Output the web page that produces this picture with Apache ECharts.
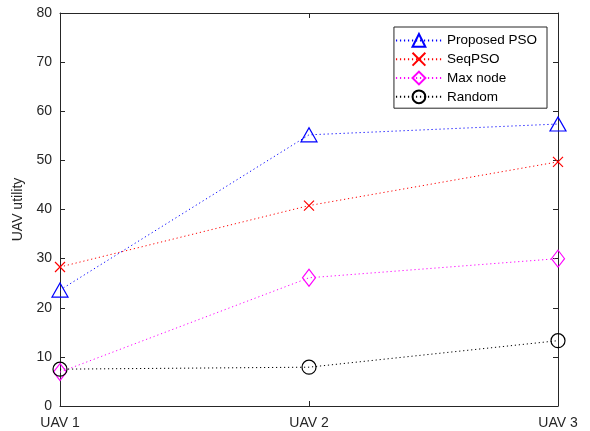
<!DOCTYPE html>
<html>
<head>
<meta charset="utf-8">
<script src="https://cdn.jsdelivr.net/npm/echarts@6/dist/echarts.min.js"></script>
<style>
  html, body { margin: 0; padding: 0; background: #fff; }
  #chart { width: 590px; height: 431px; }
</style>
</head>
<body>
<div id="chart"></div>
<script>
// Categories and series values
const categories = ['UAV 1', 'UAV 2', 'UAV 3'];
const proposedPSO = [23.6, 55.2, 57.4];
const seqPSO = [28.3, 40.8, 49.7];
const maxNode = [6.9, 26.1, 30.0];
const randomSel = [7.5, 7.9, 13.3];
const yTicks = { min: 0, max: 80, interval: 10 };

const axisColor = '#262626';
const font = 'Liberation Sans, Arial, sans-serif';
const crossPath = 'path://M0,0L10,10M10,0L0,10';

function makeSeries(name, data, color, symbol, size) {
  return {
    name: name,
    type: 'line',
    data: data,
    symbol: symbol,
    symbolSize: size,
    showAllSymbol: true,
    lineStyle: { color: color, width: 1, type: [1.2, 2.8] },
    itemStyle: { color: 'rgba(0,0,0,0)', borderColor: color, borderWidth: 1.2 },
    emphasis: { disabled: true },
    z: 3
  };
}

const tickStyle = { inside: true, length: 5, lineStyle: { color: axisColor } };

const chart = echarts.init(document.getElementById('chart'), null, { renderer: 'canvas' });
chart.setOption({
  animation: false,
  backgroundColor: '#fff',
  textStyle: { fontFamily: font },
  grid: { left: 60, right: 32, top: 13, bottom: 25, containLabel: false },
  legend: {
    right: 43,
    top: 27,
    orient: 'vertical',
    backgroundColor: '#fff',
    borderColor: axisColor,
    borderWidth: 1,
    borderRadius: 0,
    padding: [6, 10, 4, 1],
    itemGap: 4,
    itemWidth: 46,
    itemHeight: 16,
    textStyle: { fontFamily: font, fontSize: 13.5, color: '#000' },
    data: ['Proposed PSO', 'SeqPSO', 'Max node', 'Random']
  },
  xAxis: [{
    type: 'category',
    data: categories,
    boundaryGap: false,
    axisLine: { onZero: false, lineStyle: { color: axisColor, width: 1 } },
    axisTick: Object.assign({ alignWithLabel: true, interval: 0 }, tickStyle),
    axisLabel: { color: axisColor, fontSize: 14, fontFamily: font, margin: 10,
      showMinLabel: true, showMaxLabel: true, interval: 0 },
    splitLine: { show: false }
  }, {
    type: 'category',
    data: categories,
    position: 'top',
    boundaryGap: false,
    axisLine: { onZero: false, lineStyle: { color: axisColor, width: 1 } },
    axisTick: Object.assign({ interval: 0 }, tickStyle),
    axisLabel: { show: false },
    splitLine: { show: false }
  }],
  yAxis: [{
    type: 'value',
    min: yTicks.min, max: yTicks.max, interval: yTicks.interval,
    name: 'UAV utility',
    nameLocation: 'middle',
    nameGap: 33,
    nameTextStyle: { color: axisColor, fontSize: 14, fontFamily: font },
    axisLine: { show: true, onZero: false, lineStyle: { color: axisColor, width: 1 } },
    axisTick: Object.assign({ show: true }, tickStyle),
    axisLabel: { color: axisColor, fontSize: 14, fontFamily: font, margin: 8 },
    splitLine: { show: false }
  }, {
    type: 'value',
    position: 'right',
    min: yTicks.min, max: yTicks.max, interval: yTicks.interval,
    axisLine: { show: true, onZero: false, lineStyle: { color: axisColor, width: 1 } },
    axisTick: Object.assign({ show: true }, tickStyle),
    axisLabel: { show: false },
    splitLine: { show: false }
  }],
  series: [
    makeSeries('Proposed PSO', proposedPSO, '#0000ff', 'triangle', [16, 14]),
    makeSeries('SeqPSO', seqPSO, '#ff0000', crossPath, 10),
    makeSeries('Max node', maxNode, '#ff00ff', 'diamond', [13, 17]),
    makeSeries('Random', randomSel, '#000000', 'circle', 14)
  ]
});
</script>
</body>
</html>
